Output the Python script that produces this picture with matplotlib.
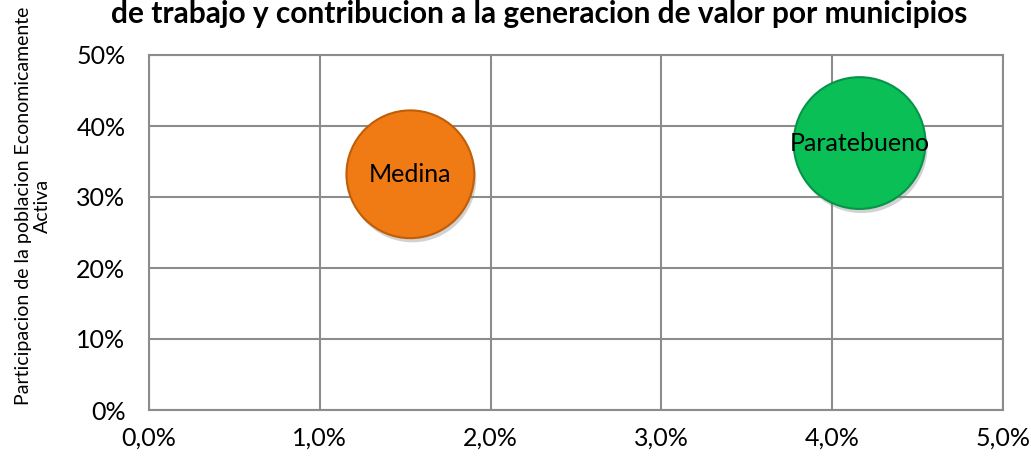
import numpy as np
import matplotlib
matplotlib.use("Agg")
import matplotlib.pyplot as plt
import matplotlib.transforms as mtransforms
from matplotlib.ticker import FuncFormatter

# data
municipios = ["Medina", "Paratebueno"]
x_valor = [0.0153, 0.0416]      # contribucion a la generacion de valor
y_pea = [0.332, 0.376]          # participacion de la PEA
tamano = [0.94, 1.0]            # relative bubble size
colores = ["#F07A14", "#0ABF55"]
bordes = ["#C05E08", "#07944A"]

x_ticks = [0, 0.01, 0.02, 0.03, 0.04, 0.05]
y_ticks = [0, 0.1, 0.2, 0.3, 0.4, 0.5]

plt.rcParams["font.family"] = ["Lato", "DejaVu Sans"]

fig = plt.figure(figsize=(10.31, 4.66), dpi=100)
ax = fig.add_axes([149/1031, 1 - 410/466, (1003-149)/1031, (410-55)/466])

s_base = 9000
sizes = [t*s_base for t in tamano]
# soft shadow under bubbles
sombra = mtransforms.offset_copy(ax.transData, fig=fig, x=1.5, y=-3, units="points")
ax.scatter(x_valor, y_pea, s=sizes, c="#7F7F7F", alpha=0.35, linewidths=0,
           transform=sombra, zorder=2)
ax.scatter(x_valor, y_pea, s=sizes, c=colores,
           edgecolors=bordes, linewidths=1.5, zorder=3)
for nombre, xv, yv in zip(municipios, x_valor, y_pea):
    ax.text(xv, yv, nombre, ha="center", va="center", fontsize=18, zorder=4)

ax.set_xlim(0, 0.05)
ax.set_ylim(0, 0.5)
ax.set_xticks(x_ticks)
ax.set_yticks(y_ticks)
ax.xaxis.set_major_formatter(FuncFormatter(lambda v, p: f"{v*100:.1f}%".replace(".", ",")))
ax.yaxis.set_major_formatter(FuncFormatter(lambda v, p: f"{v*100:.0f}%"))
ax.tick_params(length=0, labelsize=18)
ax.tick_params(axis="x", pad=12)
ax.tick_params(axis="y", pad=17)
ax.grid(True, color="#8C8C8C", linewidth=1.5)
ax.set_axisbelow(True)
for sp in ax.spines.values():
    sp.set_color("#8C8C8C")
    sp.set_linewidth(1.5)

fig.text(0.032, 1 - 206/466, "Participacion de la poblacion Economicamente\nActiva",
         rotation=90, ha="center", va="center", fontsize=14, linespacing=1.15)
fig.text(0.523, 1 - 23/466,
         "de trabajo y contribucion a la generacion de valor por municipios",
         ha="center", va="baseline", fontsize=21.5, fontweight="bold")

fig.savefig("out.png", dpi=100)
